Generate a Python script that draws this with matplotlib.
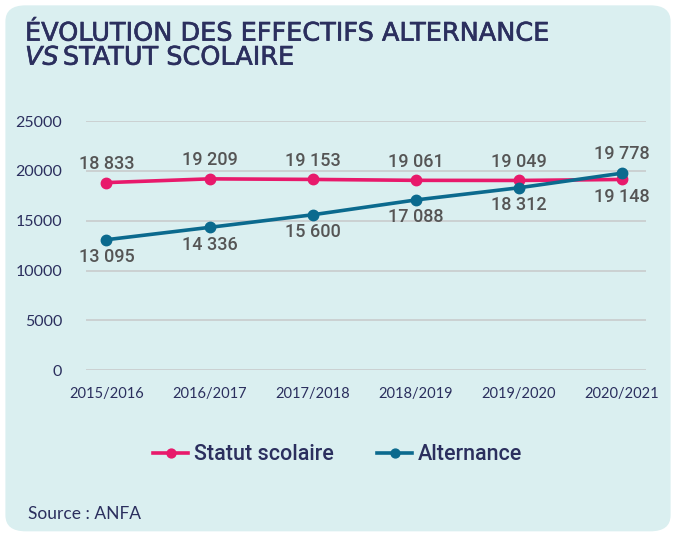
import matplotlib.pyplot as plt
import matplotlib.patheffects as pe
from matplotlib.patches import FancyBboxPatch

# Données
annees = ["2015/2016", "2016/2017", "2017/2018", "2018/2019", "2019/2020", "2020/2021"]
statut_scolaire = [18833, 19209, 19153, 19061, 19049, 19148]
alternance = [13095, 14336, 15600, 17088, 18312, 19778]
yticks = [0, 5000, 10000, 15000, 20000, 25000]

fond = "#daeff0"
marine = "#2b2f5e"
rose = "#e8196b"
bleu = "#0b6a8e"
gris = "#555555"


def fmt(v):
    return f"{v:,}".replace(",", " ")


fig = plt.figure(figsize=(6.76, 5.34), dpi=100)
fig.patch.set_facecolor("white")

# Cadre arrondi
cadre = FancyBboxPatch((0.008, 0.005), 0.984, 0.985, boxstyle="round,pad=0,rounding_size=0.03",
                       transform=fig.transFigure, facecolor=fond, edgecolor="none", zorder=-5)
fig.patches.append(cadre)

titre = dict(fontsize=18.4, color=marine, family="DejaVu Sans", va="center",
             path_effects=[pe.withStroke(linewidth=0.45, foreground=marine)])
fig.text(0.037, 0.937, "ÉVOLUTION DES EFFECTIFS ALTERNANCE", **titre)
fig.text(0.037, 0.892, "VS", fontstyle="italic", **titre)
fig.text(0.093, 0.892, "STATUT SCOLAIRE", **titre)

ax = fig.add_axes([0.127, 0.307, 0.828, 0.466])
ax.set_facecolor("none")
x = list(range(len(annees)))

ax.plot(x, statut_scolaire, color=rose, lw=2.6, marker="o", ms=7.5, label="Statut scolaire", zorder=3)
ax.plot(x, alternance, color=bleu, lw=2.6, marker="o", ms=7.5, label="Alternance", zorder=3)

etiq = dict(textcoords="offset points", ha="center", fontsize=13, color=gris,
            family="Roboto", fontweight="medium")
for i in x:
    s, a = statut_scolaire[i], alternance[i]
    haut, bas = (a, s) if a > s else (s, a)
    ax.annotate(fmt(haut), (i, haut), xytext=(0, 7), va="bottom", **etiq)
    ax.annotate(fmt(bas), (i, bas), xytext=(0, -6), va="top", **etiq)

ax.set_ylim(0, 25000)
ax.set_xlim(-0.2, 5.23)
ax.set_yticks(yticks)
ax.set_yticklabels([str(v) for v in yticks])
ax.set_xticks(x)
ax.set_xticklabels(annees)
ax.tick_params(length=0, labelsize=10.5, labelcolor=marine, pad=12)
ax.tick_params(axis="y", pad=17, labelsize=11.5)
for lab in ax.get_xticklabels() + ax.get_yticklabels():
    lab.set_family("Lato")
ax.grid(axis="y", color="#c8cccc", lw=1.2)
ax.set_axisbelow(True)
for sp in ax.spines.values():
    sp.set_visible(False)

leg = fig.legend(loc="center", bbox_to_anchor=(0.5, 0.148), ncol=2, frameon=False,
                 prop={"family": "Roboto", "size": 15.5, "weight": "medium"}, handlelength=1.6,
                 columnspacing=2.0, handletextpad=0.3, markerscale=0.85)
for t in leg.get_texts():
    t.set_color(marine)

fig.text(0.041, 0.028, "Source : ANFA", fontsize=12.5, color=marine, family="Lato")

fig.savefig("out.png", dpi=100, facecolor="white")
